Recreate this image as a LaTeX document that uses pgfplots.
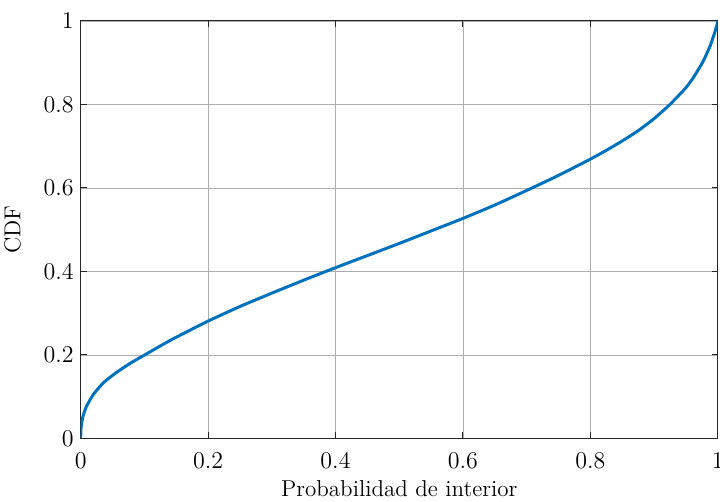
\documentclass[border=0pt]{standalone}
\usepackage{pgfplots}
\pgfplotsset{compat=1.18}
\definecolor{mblue}{RGB}{0,114,189}
\definecolor{axgray}{RGB}{38,38,38}

\begin{document}
\begin{tikzpicture}
\begin{axis}[
  scale only axis,
  width=318.5pt, height=208.7pt,
  xmin=0, xmax=1, ymin=0, ymax=1,
  xtick={0,0.2,...,1}, ytick={0,0.2,...,1},
  tick align=inside,
  major tick length=3pt,
  grid=major,
  major grid style={black!32, line width=0.4pt},
  axis line style={axgray, line width=0.5pt},
  every tick/.style={axgray, line width=0.5pt},
  tick label style={font=\fontsize{11.5}{13.8}\selectfont},
  xticklabel style={yshift=-4pt},
  label style={font=\fontsize{11.5}{13.8}\selectfont},
  xlabel={Probabilidad de interior},
  ylabel={CDF},
  xlabel style={yshift=1pt},
  ylabel style={yshift=4.5pt},
]
\addplot[mblue, line width=1.5pt, smooth, tension=0.35] coordinates {
 (0,0) (0.0003,0.020) (0.001,0.032) (0.0036,0.053) (0.0088,0.076)
 (0.0193,0.104) (0.03,0.124) (0.0377,0.136) (0.05,0.151) (0.0638,0.166)
 (0.08,0.182) (0.1005,0.200) (0.142,0.236) (0.2,0.281) (0.25,0.316)
 (0.3,0.348) (0.35,0.379) (0.4,0.409) (0.45,0.438) (0.5,0.467)
 (0.55,0.497) (0.6,0.527) (0.65,0.559) (0.7,0.594) (0.75,0.630)
 (0.8,0.669) (0.825,0.690) (0.85,0.7125) (0.875,0.737) (0.9,0.766)
 (0.925,0.800) (0.95,0.840) (0.962,0.865) (0.977,0.903) (0.988,0.940)
 (0.995,0.971) (0.999,0.992) (1,1)
};
\end{axis}
\pgfresetboundingbox
\path (current axis.south west) ++(-40.35pt,-31.35pt) coordinate (bbsw);
\path (current axis.north east) ++(1.15pt,10.5pt) coordinate (bbne);
\useasboundingbox (bbsw) rectangle (bbne);
\end{tikzpicture}
\end{document}
